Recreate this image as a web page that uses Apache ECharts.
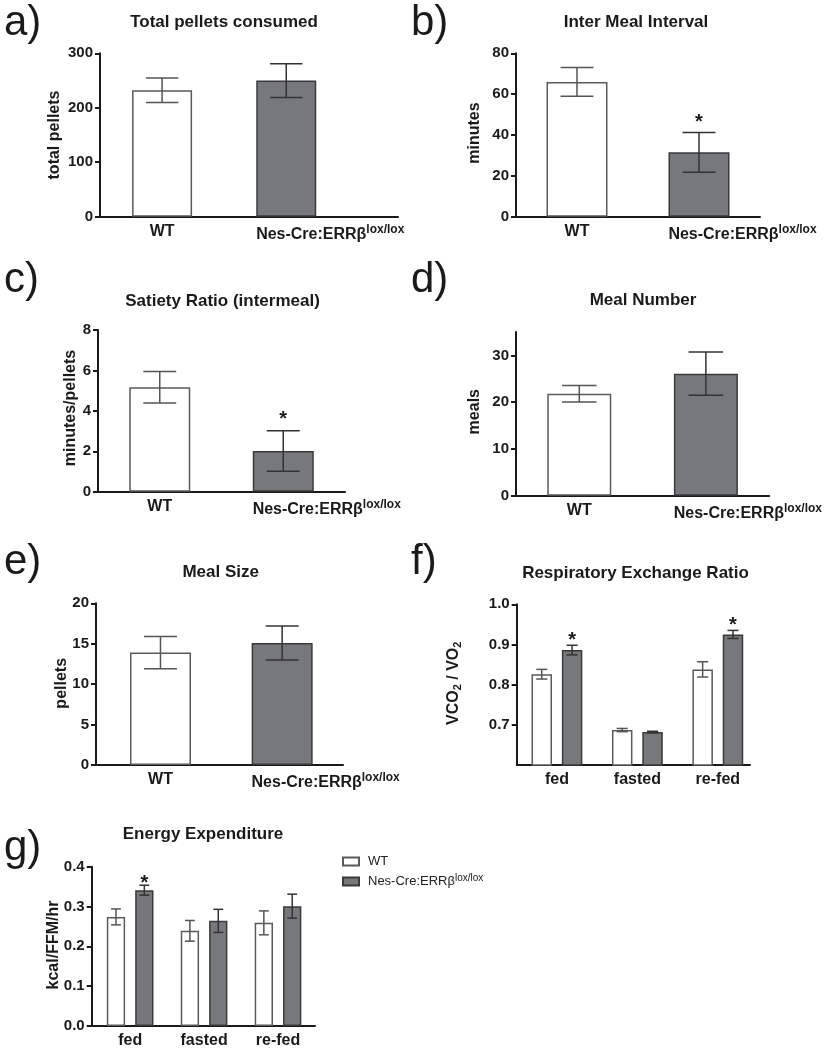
<!DOCTYPE html>
<html><head><meta charset="utf-8">
<script src="https://cdn.jsdelivr.net/npm/echarts@6/dist/echarts.min.js"></script>
<style>html,body{margin:0;padding:0;background:#fff}#c{width:825px;height:1050px}</style>
</head><body><div id="c"></div>
<script>
// ---------------- data ----------------
const genotypes = ['WT', 'Nes-Cre:ERRβlox/lox'];
const phases = ['fed', 'fasted', 're-fed'];

const pelletsMean = [232, 250];
const pelletsSem = [22.5, 31];
const pelletsSig = [0, 0];

const imiMean = [66, 31.5];
const imiSem = [7, 9.7];
const imiSig = [0, 1];

const satietyMean = [5.17, 2.01];
const satietySem = [0.78, 1.0];
const satietySig = [0, 1];

const mealNumMean = [21.8, 26.1];
const mealNumSem = [1.75, 4.6];
const mealNumSig = [0, 0];

const mealSizeMean = [13.9, 15.1];
const mealSizeSem = [2.0, 2.1];
const mealSizeSig = [0, 0];

const rerWT = [0.826, 0.687, 0.838];
const rerWTSem = [0.012, 0.004, 0.019];
const rerWTSig = [0, 0, 0];
const rerKO = [0.886, 0.682, 0.925];
const rerKOSem = [0.012, 0.002, 0.010];
const rerKOSig = [1, 0, 1];

const eeWT = [0.274, 0.239, 0.259];
const eeWTSem = [0.020, 0.026, 0.030];
const eeWTSig = [0, 0, 0];
const eeKO = [0.341, 0.264, 0.301];
const eeKOSem = [0.0125, 0.029, 0.030];
const eeKOSig = [1, 0, 0];

const ticksA = [0, 100, 200, 300];
const ticksB = [0, 20, 40, 60, 80];
const ticksC = [0, 2, 4, 6, 8];
const ticksD = [0, 10, 20, 30];
const ticksE = [0, 5, 10, 15, 20];
const ticksF = [0.7, 0.8, 0.9, 1.0];
const ticksG = [0.0, 0.1, 0.2, 0.3, 0.4];

const panelLetters = ['a)', 'b)', 'c)', 'd)', 'e)', 'f)', 'g)'];
const panelTitles = ['Total pellets consumed', 'Inter Meal Interval', 'Satiety Ratio (intermeal)',
  'Meal Number', 'Meal Size', 'Respiratory Exchange Ratio', 'Energy Expenditure'];
const yTitles = ['total pellets', 'minutes', 'minutes/pellets', 'meals', 'pellets',
  'VCO{sub|2} / VO{sub|2}', 'kcal/FFM/hr'];

// ---------------- style ----------------
const FONT = "'Liberation Sans', Arial, Helvetica, sans-serif";
const INK = '#1a1a1a';
const DARK = '#77787c';
const WT_STYLE = { color: '#ffffff', borderColor: '#5a5a5a', borderWidth: 1.5 };
const KO_STYLE = { color: DARK, borderColor: '#3a3a3a', borderWidth: 1.5 };
const WT_ERR = '#555555';
const KO_ERR = '#333333';

function catLabel(name, shifted) {
  if (name && name.indexOf('lox/lox') >= 0) return (shifted ? '{pad|}' : '') + 'Nes-Cre:ERRβ{sup|lox/lox}';
  return name;
}

const grids = [], xAxes = [], yAxes = [], series = [], graphics = [];

function errRender(offsetPx, capHalf, color, starGap) {
  return function (params, api) {
    const x = api.value(0), m = api.value(1), s = api.value(2), sig = api.value(3);
    const top = api.coord([x, m + s]);
    const bot = api.coord([x, m - s]);
    const cx = top[0] + offsetPx;
    const st = { stroke: color, lineWidth: 1.5 };
    const ch = [
      { type: 'line', shape: { x1: cx, y1: top[1], x2: cx, y2: bot[1] }, style: st },
      { type: 'line', shape: { x1: cx - capHalf, y1: top[1], x2: cx + capHalf, y2: top[1] }, style: st },
      { type: 'line', shape: { x1: cx - capHalf, y1: bot[1], x2: cx + capHalf, y2: bot[1] }, style: st }
    ];
    if (sig) ch.push({ type: 'text', x: cx, y: top[1] - starGap,
      style: { text: '*', align: 'center', verticalAlign: 'middle', font: 'bold 20px ' + FONT, fill: INK } });
    return { type: 'group', children: ch };
  };
}

function addAxes(i, p, cats) {
  grids.push(p.grid);
  xAxes.push({
    type: 'value', gridIndex: i, min: p.xMin, max: p.xMax,
    splitLine: { show: false }, axisTick: { show: false },
    axisLine: { show: true, onZero: false, lineStyle: { color: INK, width: 2 } },
    axisLabel: {
      customValues: cats.map((c, k) => k + 1),
      formatter: v => catLabel(cats[Math.round(v) - 1], true),
      color: INK, fontFamily: FONT, fontSize: 16, fontWeight: 'bold', margin: 7,
      rich: {
        pad: { width: p.barWidth ? 148 - p.barWidth : 0 },
        sup: { fontSize: 12, fontWeight: 'bold', color: INK, fontFamily: FONT, padding: [0, 0, 10, 0] }
      }
    }
  });
  yAxes.push({
    type: 'value', gridIndex: i, min: p.yMin, max: p.yMax,
    splitLine: { show: false },
    axisLine: { show: true, onZero: false, lineStyle: { color: INK, width: 2 } },
    axisTick: { show: true, length: 5, customValues: p.ticks, lineStyle: { color: INK, width: 2 } },
    axisLabel: { customValues: p.ticks, formatter: p.fmt || (v => String(v)), color: INK,
      fontFamily: FONT, fontSize: 15, fontWeight: 'bold', margin: 7 }
  });
}

function addTwoBarPanel(i, p, mean, sem, sig) {
  addAxes(i, p, genotypes);
  series.push({
    type: 'bar', name: 'panel' + i, xAxisIndex: i, yAxisIndex: i, barWidth: p.barWidth, z: 2,
    data: mean.map((m, k) => ({ value: [k + 1, m], itemStyle: k === 0 ? WT_STYLE : KO_STYLE }))
  });
  series.push({
    type: 'custom', name: 'err' + i, xAxisIndex: i, yAxisIndex: i, z: 5,
    renderItem: function (params, api) {
      const k = params.dataIndex;
      return errRender(0, p.barWidth * 0.27, k === 0 ? WT_ERR : KO_ERR, p.starGap)(params, api);
    },
    data: mean.map((m, k) => [k + 1, m, sem[k], sig[k]])
  });
}

function addGroupedPanel(i, p, wt, wtSem, wtSig, ko, koSem, koSig, named) {
  addAxes(i, p, phases);
  const off = p.groupBar * (1 + p.gap) / 2;
  [[wt, wtSem, wtSig, WT_STYLE, WT_ERR, -off, genotypes[0]], [ko, koSem, koSig, KO_STYLE, KO_ERR, off, genotypes[1]]]
    .forEach(([m, s, g, sty, ec, o, nm]) => {
      series.push({
        type: 'bar', name: named ? nm : nm + ' ' + i, xAxisIndex: i, yAxisIndex: i,
        barWidth: p.groupBar, barGap: (p.gap * 100) + '%', z: 2, itemStyle: sty,
        data: m.map((v, k) => [k + 1, v])
      });
      series.push({
        type: 'custom', name: 'err' + i + nm, xAxisIndex: i, yAxisIndex: i, z: 5,
        renderItem: errRender(o, p.groupBar * 0.27, ec, p.starGap),
        data: m.map((v, k) => [k + 1, v, s[k], g[k]])
      });
    });
}

// layouts (px)
addTwoBarPanel(0, { grid: { left: 100, top: 53.3, width: 298, height: 163.4 }, xMin: 0.5, xMax: 2.9,
  yMin: 0, yMax: 300, ticks: ticksA, barWidth: 60, starGap: 10 }, pelletsMean, pelletsSem, pelletsSig);
addTwoBarPanel(1, { grid: { left: 516, top: 53.3, width: 244, height: 163.4 }, xMin: 0.5, xMax: 2.5,
  yMin: 0, yMax: 80, ticks: ticksB, barWidth: 61, starGap: 10 }, imiMean, imiSem, imiSig);
addTwoBarPanel(2, { grid: { left: 98, top: 330, width: 247, height: 161.7 }, xMin: 0.5, xMax: 2.5,
  yMin: 0, yMax: 8, ticks: ticksC, barWidth: 61, starGap: 11 }, satietyMean, satietySem, satietySig);
addTwoBarPanel(3, { grid: { left: 516, top: 332, width: 256, height: 163.7 }, xMin: 0.5, xMax: 2.5,
  yMin: 0, yMax: 35, ticks: ticksD, barWidth: 64, starGap: 10 }, mealNumMean, mealNumSem, mealNumSig);
addTwoBarPanel(4, { grid: { left: 96, top: 603.3, width: 247, height: 161.7 }, xMin: 0.47, xMax: 2.5,
  yMin: 0, yMax: 20, ticks: ticksE, barWidth: 61, starGap: 10 }, mealSizeMean, mealSizeSem, mealSizeSig);
addGroupedPanel(5, { grid: { left: 516.7, top: 604.3, width: 233.3, height: 160.7 }, xMin: 0.5, xMax: 3.4,
  yMin: 0.6, yMax: 1.0, ticks: ticksF, fmt: v => v.toFixed(1), groupBar: 20.5, gap: 0.48, starGap: 5 },
  rerWT, rerWTSem, rerWTSig, rerKO, rerKOSem, rerKOSig, false);
addGroupedPanel(6, { grid: { left: 91.7, top: 866.7, width: 223.3, height: 159.3 }, xMin: 0.48, xMax: 3.5,
  yMin: 0, yMax: 0.4, ticks: ticksG, fmt: v => v.toFixed(1), groupBar: 18.3, gap: 0.55, starGap: 2 },
  eeWT, eeWTSem, eeWTSig, eeKO, eeKOSem, eeKOSig, true);

// text decorations
const letterPos = [[4, 23], [411, 23], [4, 280], [411, 280], [4, 562], [411, 562], [4, 848]];
const titlePos = [[224, 22], [636, 22], [222.5, 301.7], [643, 300.7], [220.7, 572.3], [635.5, 573.3], [203, 834.3]];
const yTitlePos = [[55, 135], [475, 133], [71, 408], [475, 411.7], [61.7, 683.3], [453.3, 683.3], [53.3, 945]];
panelLetters.forEach((t, i) => {
  graphics.push({ type: 'text', x: letterPos[i][0], y: letterPos[i][1],
    style: { text: t, font: 'normal 42px ' + FONT, fill: INK, align: 'left', verticalAlign: 'middle' } });
});
panelTitles.forEach((t, i) => {
  graphics.push({ type: 'text', x: titlePos[i][0], y: titlePos[i][1],
    style: { text: t, font: 'bold 17px ' + FONT, fill: INK, align: 'center', verticalAlign: 'middle' } });
});
yTitles.forEach((t, i) => {
  graphics.push({ type: 'text', x: yTitlePos[i][0], y: yTitlePos[i][1], rotation: Math.PI / 2,
    style: { text: t, font: 'bold 16px ' + FONT, fill: INK, align: 'center', verticalAlign: 'middle',
      rich: { sub: { fontSize: 11, fontWeight: 'bold', fontFamily: FONT, fill: INK, padding: [9, 0, 0, 0] } } } });
});

const chart = echarts.init(document.getElementById('c'), null, { renderer: 'canvas' });
chart.setOption({
  backgroundColor: '#ffffff',
  animation: false,
  textStyle: { fontFamily: FONT },
  grid: grids, xAxis: xAxes, yAxis: yAxes, series: series,
  legend: {
    data: genotypes, left: 342, top: 855, padding: 0, orient: 'vertical', itemWidth: 16, itemHeight: 8, itemGap: 5,
    icon: 'rect', selectedMode: false,
    formatter: n => catLabel(n, false),
    textStyle: { fontFamily: FONT, fontSize: 13, color: '#222', padding: [0, 0, 0, 4],
      rich: { sup: { fontSize: 10, color: '#222', fontFamily: FONT, padding: [0, 0, 7, 0] } } }
  },
  graphic: graphics
});
</script></body></html>
